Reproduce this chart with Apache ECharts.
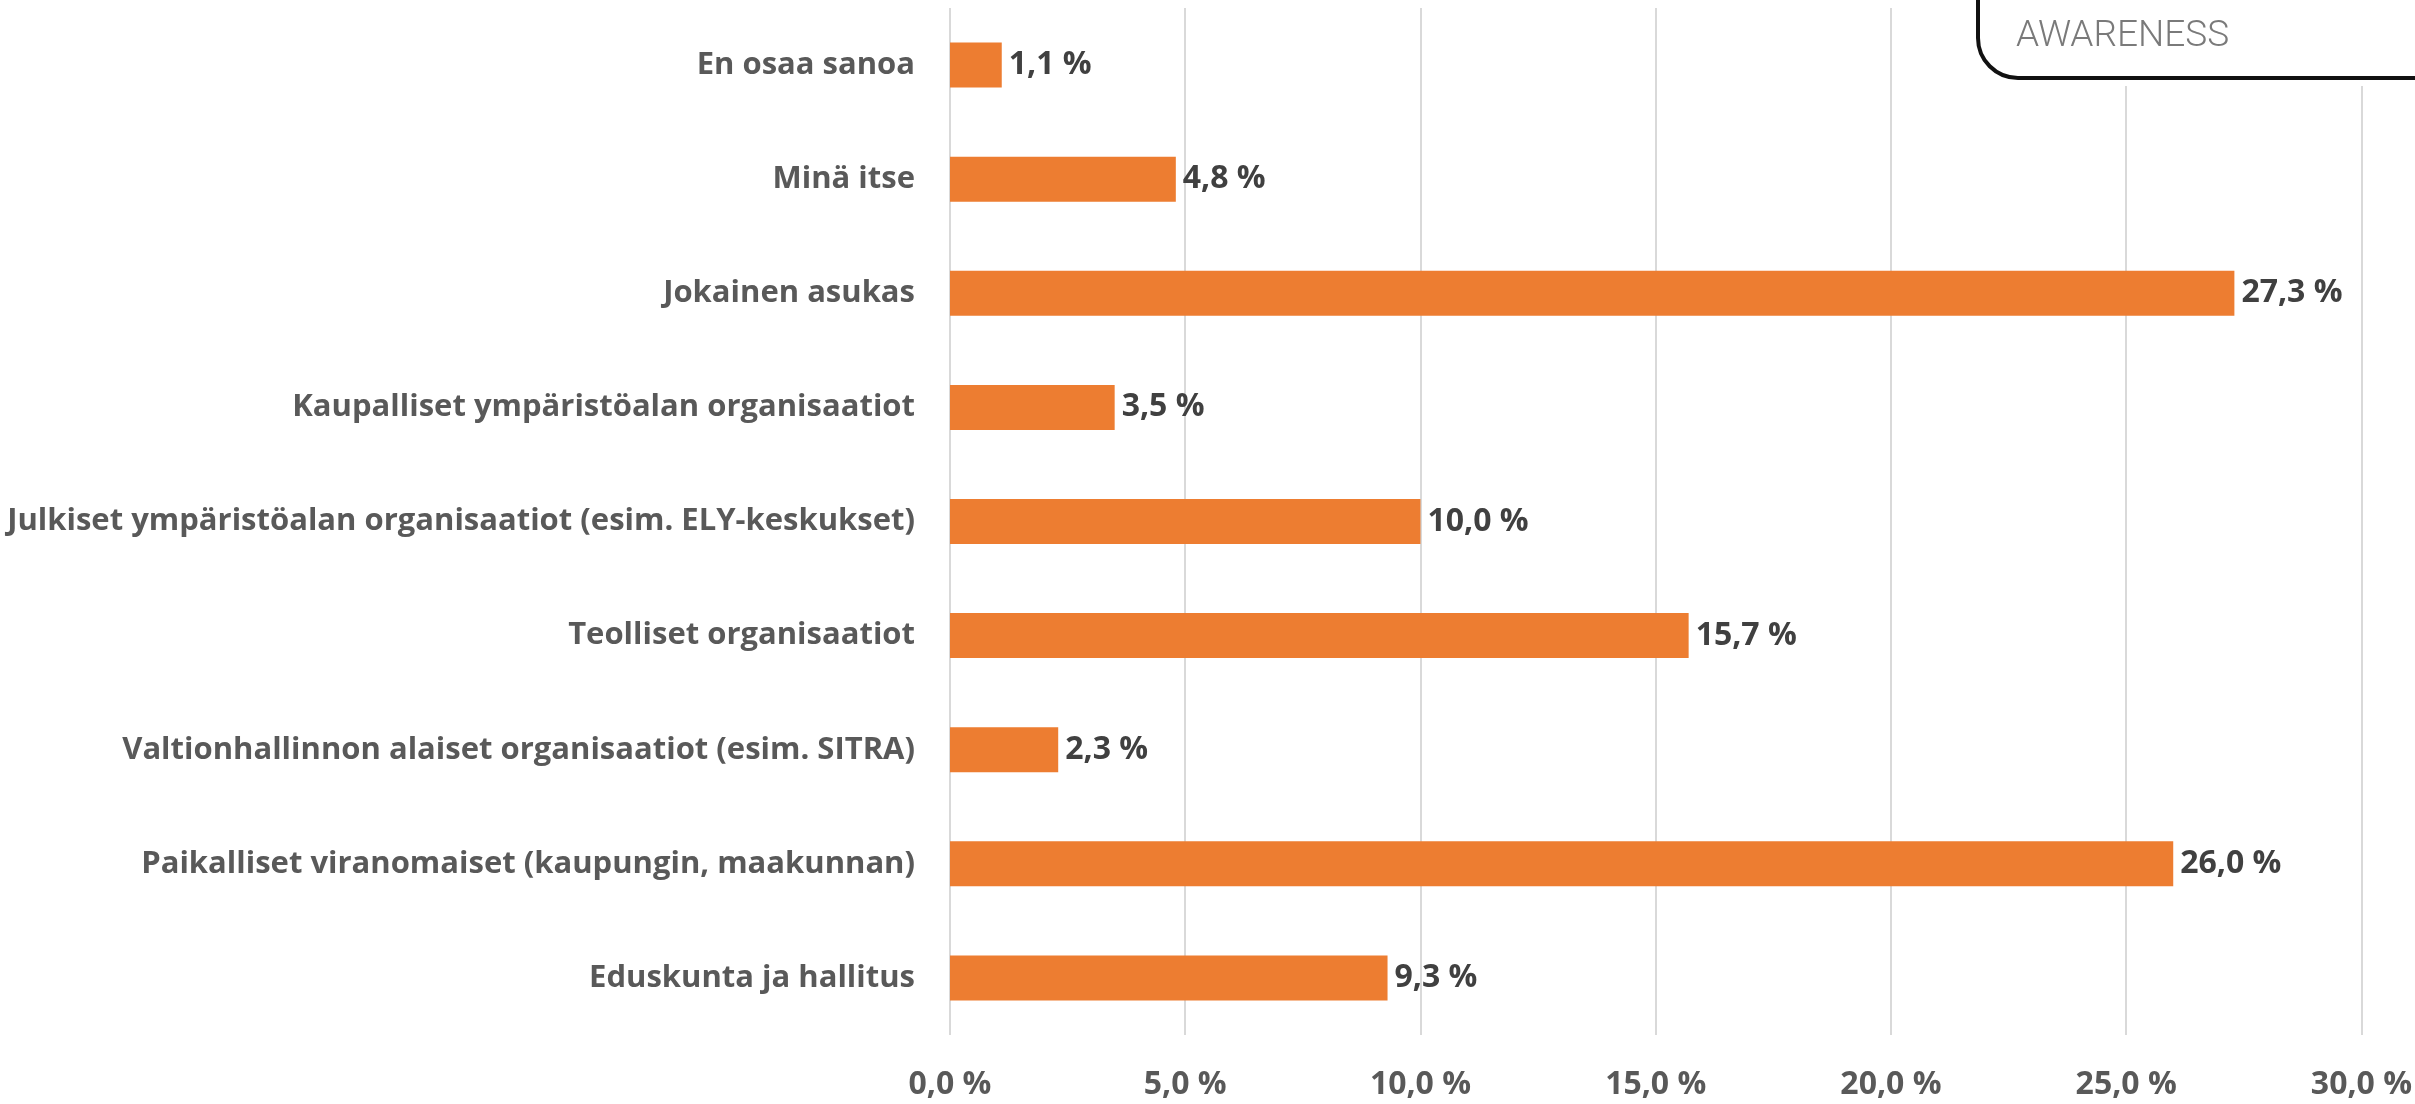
<!DOCTYPE html>
<html>
<head>
<meta charset="utf-8">
<script src="https://cdn.jsdelivr.net/npm/echarts@6/dist/echarts.min.js"></script>
<style>
  html, body { margin: 0; padding: 0; background: #fff; }
  #chart { width: 2415px; height: 1104px; }
</style>
</head>
<body>
<div id="chart"></div>
<script>
// vastaajaryhmät, ylhäältä alas
var categories = [
    'En osaa sanoa',
    'Minä itse',
    'Jokainen asukas',
    'Kaupalliset ympäristöalan organisaatiot',
    'Julkiset ympäristöalan organisaatiot (esim. ELY-keskukset)',
    'Teolliset organisaatiot',
    'Valtionhallinnon alaiset organisaatiot (esim. SITRA)',
    'Paikalliset viranomaiset (kaupungin, maakunnan)',
    'Eduskunta ja hallitus'
];
// osuudet prosentteina
var values = [1.1, 4.8, 27.3, 3.5, 10.0, 15.7, 2.3, 26.0, 9.3];
var axisMax = 30;
var axisStep = 5;

//muotoilu suomalaisittain: 27,3 %
function fmt(v) {
    return v.toFixed(1).replace('.', ',') + ' %';
}

var chart = echarts.init(document.getElementById('chart'));
var font = '"Open Sans", sans-serif';

chart.setOption({
    animation: false,
    grid: { left: 950, right: 53, top: 8, bottom: 69, containLabel: false },
    xAxis: {
        type: 'value',
        min: 0,
        max: axisMax,
        interval: axisStep,
        axisLine: { show: false },
        axisTick: { show: false },
        splitLine: { lineStyle: { color: '#D9D9D9', width: 2 } },
        axisLabel: {
            formatter: fmt,
            margin: 34,
            color: '#595959',
            fontFamily: font,
            fontWeight: 'bold',
            fontSize: 32
        }
    },
    yAxis: {
        type: 'category',
        inverse: true,
        data: categories,
        axisLine: { show: false },
        axisTick: { show: false },
        axisLabel: {
            margin: 35,
            color: '#595959',
            fontFamily: font,
            fontWeight: 'bold',
            fontSize: 31
        }
    },
    series: [{
        type: 'bar',
        data: values,
        barWidth: 45,
        itemStyle: { color: '#ED7D31' },
        label: {
            show: true,
            position: 'right',
            distance: 7,
            formatter: function (p) { return fmt(p.value); },
            color: '#404040',
            fontFamily: font,
            fontWeight: 'bold',
            fontSize: 32
        }
    }],
    //oikean yläkulman logolaatikko
    graphic: [{
        type: 'rect',
        z: 100,
        shape: { x: 1950, y: -80, width: 520, height: 166 },
        style: { fill: '#fff' }
    }, {
        type: 'rect',
        z: 101,
        shape: { x: 1978, y: -80, width: 500, height: 158, r: 40 },
        style: { fill: '#fff', stroke: '#111', lineWidth: 4 }
    }, {
        type: 'text',
        z: 102,
        left: 2016,
        top: 18,
        style: {
            text: 'AWARENESS',
            fill: '#7a7a7a',
            font: '300 37px Roboto, sans-serif'
        }
    }]
});
</script>
</body>
</html>
